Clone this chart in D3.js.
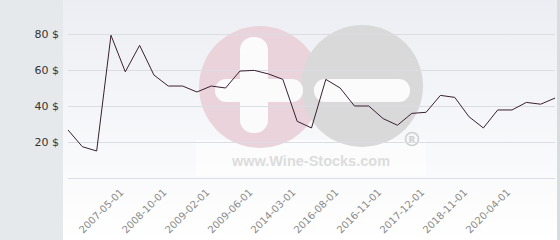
<!DOCTYPE html>
<html>
<head>
<meta charset="utf-8">
<script src="https://cdn.jsdelivr.net/npm/d3@7"></script>
<style>
  body { margin: 0; background: #fff; }
  svg { display: block; font-family: "DejaVu Sans", sans-serif; }
</style>
</head>
<body>
<div id="chart"></div>
<script>
// price per bottle, one value per category (35 points)
const prices = [
  26.7, 17.4, 15, 79.3, 59, 73.7, 57.2, 51.1, 51.1, 47.8,
  51.1, 50, 59.4, 59.8, 57.8, 54.8, 31.5, 27.8, 54.8, 50,
  40, 40, 33, 29.3, 35.9, 36.5, 45.9, 44.8, 34, 27.8,
  37.8, 37.8, 42, 41, 44.4
];
// only every third category is labelled on the axis
const tickIndexes = [4, 7, 10, 13, 16, 19, 22, 25, 28, 31];
const tickLabels = [
  "2007-05-01", "2008-10-01", "2009-02-01", "2009-06-01", "2014-03-01",
  "2016-08-01", "2016-11-01", "2017-12-01", "2018-11-01", "2020-04-01"
];
const yTicks = [0, 20, 40, 60, 80];

const width = 560;
const height = 240;
const plotLeft = 68, plotRight = 555, plotTop = 34, plotBottom = 178;

const svg = d3.select("#chart")
  .append("svg")
  .attr("width", width)
  .attr("height", height);

// plot background gradient
const defs = svg.append("defs");
const grad = defs.append("linearGradient")
  .attr("id", "bg")
  .attr("x1", 0).attr("y1", 0).attr("x2", 0).attr("y2", 1);
grad.append("stop").attr("offset", "0%").attr("stop-color", "#eceef3");
grad.append("stop").attr("offset", "100%").attr("stop-color", "#ffffff");

svg.append("rect")
  .attr("x", 0).attr("y", 0)
  .attr("width", width).attr("height", height)
  .attr("fill", "url(#bg)");

// left grey panel
svg.append("rect")
  .attr("x", 0).attr("y", 0)
  .attr("width", 63).attr("height", height)
  .attr("fill", "#e6e9ec");

// right border
svg.append("rect")
  .attr("x", 557).attr("y", 0)
  .attr("width", 3).attr("height", height)
  .attr("fill", "#d9dcdf");

const x = d3.scalePoint()
  .domain(d3.range(prices.length))
  .range([plotLeft, plotRight]);

const y = d3.scaleLinear()
  .domain([0, 80])
  .range([plotBottom, plotTop]);

// watermark
const wm = svg.append("g");
wm.append("rect").attr("x", 196).attr("y", 140).attr("width", 230).attr("height", 36)
  .attr("fill", "#ffffff").attr("opacity", 0.5);
wm.append("circle").attr("cx", 260).attr("cy", 87).attr("r", 61).attr("fill", "#ead3db");
wm.append("circle").attr("cx", 362).attr("cy", 86).attr("r", 61).attr("fill", "#d9d9d9");
wm.append("rect").attr("x", 240).attr("y", 37).attr("width", 28).attr("height", 96).attr("rx", 13).attr("fill", "#fbfbfc");
wm.append("rect").attr("x", 215).attr("y", 79).attr("width", 88).attr("height", 23).attr("rx", 11).attr("fill", "#fbfbfc");
wm.append("rect").attr("x", 314).attr("y", 79).attr("width", 96).attr("height", 23).attr("rx", 11).attr("fill", "#fbfbfc");
wm.append("text")
  .attr("x", 311).attr("y", 166)
  .attr("text-anchor", "middle")
  .attr("font-family", "'Liberation Sans', Arial, sans-serif")
  .attr("font-size", 14.5)
  .attr("font-weight", "bold")
  .attr("fill", "#dcdcdc")
  .text("www.Wine-Stocks.com");
wm.append("circle").attr("cx", 412).attr("cy", 139).attr("r", 6.5)
  .attr("fill", "none").attr("stroke", "#cfcfcf").attr("stroke-width", 1.6);
wm.append("text")
  .attr("x", 412).attr("y", 143)
  .attr("text-anchor", "middle")
  .attr("font-size", 9)
  .attr("font-weight", "bold")
  .attr("fill", "#cfcfcf")
  .text("R");

// gridlines
svg.append("g")
  .selectAll("line")
  .data(yTicks)
  .join("line")
  .attr("x1", plotLeft).attr("x2", plotRight)
  .attr("y1", (d) => Math.round(y(d)) + 0.5)
  .attr("y2", (d) => Math.round(y(d)) + 0.5)
  .attr("stroke", "#dcdde2")
  .attr("stroke-width", 1);

// y labels (0 not shown)
svg.append("g")
  .selectAll("text")
  .data(yTicks.filter((d) => d > 0))
  .join("text")
  .attr("x", 59)
  .attr("y", (d) => y(d) + 4)
  .attr("text-anchor", "end")
  .attr("font-size", 11)
  .attr("fill", "#333")
  .text((d) => d + " $");

// x labels, rotated
svg.append("g")
  .selectAll("text")
  .data(tickIndexes)
  .join("text")
  .attr("transform", (d) => `translate(${x(d) - 1},${plotBottom + 15}) rotate(-45)`)
  .attr("text-anchor", "end")
  .attr("font-size", 10)
  .attr("fill", "#8a8a8a")
  .text((d, i) => tickLabels[i]);

// price line
const line = d3.line()
  .x((d, i) => x(i))
  .y((d) => y(d));

svg.append("path")
  .datum(prices)
  .attr("d", line)
  .attr("fill", "none")
  .attr("stroke", "#3a2030")
  .attr("stroke-width", 1);
</script>
</body>
</html>
